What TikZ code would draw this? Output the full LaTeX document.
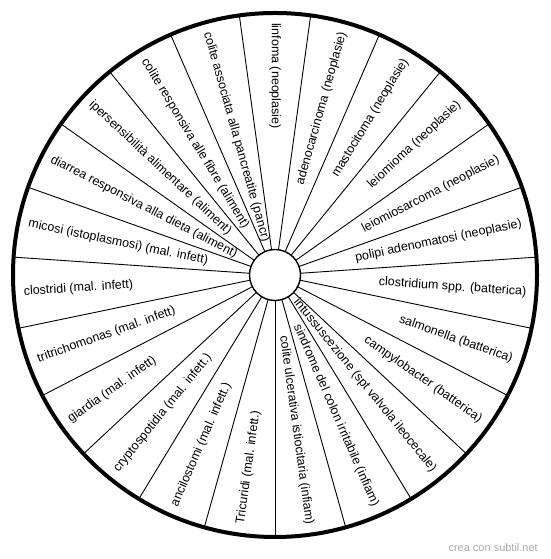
\documentclass[tikz,border=0pt]{standalone}
\usepackage{fontspec}
\setmainfont{Liberation Sans}
\definecolor{wmgray}{RGB}{170,170,170}
\tikzset{
  lbl/.style={inner sep=0pt, font=\fontsize{12.5}{14}\selectfont},
  spoke/.style={draw=black, line width=0.9pt},
  rim/.style={draw=black, line width=4pt},
  hubstyle/.style={circle, draw=black, line width=1.4pt, fill=white, minimum size=51pt, inner sep=0pt},
  wm/.style={text=wmgray, inner sep=0pt, font=\fontsize{11}{13}\selectfont}
}
\begin{document}
\begin{tikzpicture}[x=1pt,y=1pt]
\useasboundingbox (0,0) rectangle (550,559);
\def\secang{15.6521739}
\begin{scope}[shift={(275,284)}]
  \foreach \i in {0,...,22} {
    \pgfmathsetmacro\sa{90-\i*\secang+\secang/2}
    \draw[spoke] (\sa:25) -- (\sa:262);
  }
  \draw[rim] (0,0) circle (262);
  \node[hubstyle] (hub) at (0,0) {};
  \foreach \lbl [count=\j from 0] in {
    linfoma (neoplasie),
    adenocarcinoma (neoplasie),
    mastocitoma (neoplasie),
    leiomioma (neoplasie),
    leiomiosarcoma (neoplasie),
    polipi adenomatosi (neoplasie),
    clostridium spp. (batterica),
    salmonella (batterica),
    campylobacter (batterica),
    intussuscezione (spt valvola ileocecale),
    sindrome del colon irritabile (infiam),
    colite ulcerativa istiocitaria (infiam),
    Tricuridi (mal. infett.),
    ancilostomi (mal. infett.),
    cryptospotidia (mal. infett.),
    giardia (mal. infett),
    tritrichomonas (mal. infett),
    clostridi (mal. infett),
    micosi (istoplasmosi) (mal. infett),
    diarrea responsiva alla dieta (aliment),
    ipersensibilità alimentare (aliment),
    colite responsiva alle fibre (aliment),
    colite associata alla pancreatite (pancr)} {
    \pgfmathsetmacro\ang{90-\j*\secang}
    \ifnum\j>0 \ifnum\j<12
      \node[lbl, rotate=\ang, anchor=east] (t\j) at (\ang:252) {\lbl};
    \else
      \pgfmathsetmacro\rot{\ang+180}
      \node[lbl, rotate=\rot, anchor=west] (t\j) at (\ang:252) {\lbl};
    \fi\else
      \pgfmathsetmacro\rot{\ang+180}
      \node[lbl, rotate=\rot, anchor=west] (t\j) at (\ang:252) {\lbl};
    \fi
  }
\end{scope}
\node[wm, anchor=base east] (mark) at (538,8) {crea con subtil.net};
\end{tikzpicture}
\end{document}
